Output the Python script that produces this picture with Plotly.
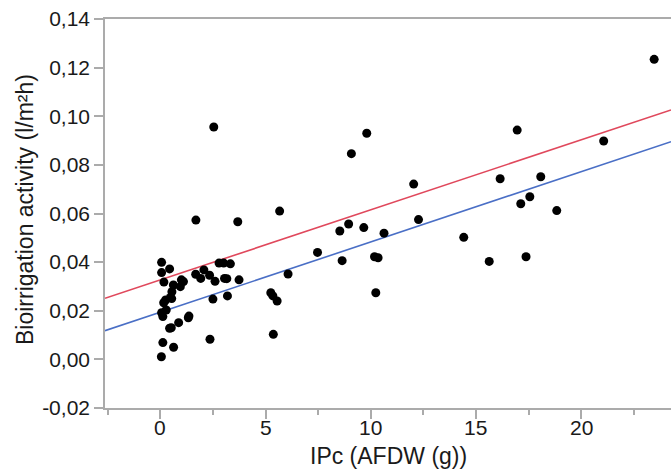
import plotly.graph_objects as go

# Data
ipc = [23.47, 16.96, 9.81, 9.08, 21.07, 12.04, 16.15, 18.08, 17.56, 17.13,
       18.84, 12.27, 5.67, 8.95, 8.53, 9.67, 10.63, 7.47, 8.64, 10.18,
       10.35, 14.42, 15.63, 17.38, 10.24, 6.07, 1.69, 3.68, 0.06, 0.06,
       0.44, 0.17, 0.62, 0.55, 0.48, 0.25, 0.16, 0.28, 0.06, 0.12,
       1.00, 0.95, 0.54, 1.68, 2.07, 1.92, 2.34, 2.60, 2.79, 3.01,
       3.33, 3.05, 3.16, 3.74, 2.50, 3.19, 1.36, 1.33, 0.87, 0.44,
       0.52, 0.12, 0.63, 0.05, 2.36, 5.25, 5.35, 5.55, 5.37, 2.54, 1.10]
bioirr = [0.1234, 0.0943, 0.0930, 0.0846, 0.0898, 0.0721, 0.0743, 0.0751, 0.0669, 0.0640,
          0.0612, 0.0575, 0.0610, 0.0557, 0.0528, 0.0542, 0.0519, 0.0440, 0.0406, 0.0422,
          0.0418, 0.0502, 0.0403, 0.0422, 0.0274, 0.0351, 0.0573, 0.0566, 0.0399, 0.0357,
          0.0372, 0.0318, 0.0306, 0.0278, 0.0255, 0.0244, 0.0233, 0.0203, 0.0192, 0.0176,
          0.0327, 0.0299, 0.0250, 0.0350, 0.0368, 0.0333, 0.0346, 0.0321, 0.0396, 0.0396,
          0.0393, 0.0333, 0.0332, 0.0327, 0.0248, 0.0261, 0.0178, 0.0171, 0.0151, 0.0128,
          0.0130, 0.0069, 0.0050, 0.0011, 0.0083, 0.0274, 0.0261, 0.0240, 0.0103, 0.0956, 0.0320]

# Fitted lines: intercept, slope
line_names = ["upper", "lower"]
line_intercepts = [0.0327, 0.0194]
line_slopes = [0.00288, 0.00289]
line_colors = ["#e0485c", "#4a6fc6"]

x_title = "IPc (AFDW (g))"
y_title = "Bioirrigation activity (l/m²h)"
x_range = [-2.63, 24.27]
y_range = [-0.02, 0.14]
x_tickvals = [0, 5, 10, 15, 20]
x_ticktext = ["0", "5", "10", "15", "20"]
y_tickvals = [-0.02, 0.0, 0.02, 0.04, 0.06, 0.08, 0.10, 0.12, 0.14]
y_ticktext = ["-0,02", "0,00", "0,02", "0,04", "0,06", "0,08", "0,10", "0,12", "0,14"]

fig = go.Figure()
for name, b0, b1, col in zip(line_names, line_intercepts, line_slopes, line_colors):
    xs = [x_range[0], x_range[1]]
    ys = [b0 + b1 * v for v in xs]
    fig.add_trace(go.Scatter(x=xs, y=ys, mode="lines", name=name,
                             line=dict(color=col, width=1.6), showlegend=False,
                             cliponaxis=True))

fig.add_trace(go.Scatter(x=ipc, y=bioirr, mode="markers", showlegend=False,
                         marker=dict(color="black", size=9, line=dict(width=0))))

axis_col = "#ababab"
txt_col = "#1a1a1a"
font_fam = "Liberation Sans, Arial, sans-serif"

annotations = [
    dict(text=x_title, xref="paper", yref="paper", x=0.5, y=-0.1234,
         xanchor="center", yanchor="middle", showarrow=False,
         font=dict(size=23, color=txt_col, family=font_fam)),
    dict(text=y_title, xref="paper", yref="paper", x=-0.1413, y=0.509,
         xanchor="center", yanchor="middle", showarrow=False, textangle=-90,
         font=dict(size=23, color=txt_col, family=font_fam)),
]
for v, t in zip(x_tickvals, x_ticktext):
    annotations.append(dict(text=t, xref="x", yref="paper", x=v, y=-0.0514,
                            xanchor="center", yanchor="middle", showarrow=False,
                            font=dict(size=21, color=txt_col, family=font_fam)))

fig.update_layout(
    width=671, height=473,
    margin=dict(l=105, r=0, t=19, b=65),
    plot_bgcolor="white", paper_bgcolor="white",
    font=dict(family=font_fam, color=txt_col, size=21),
    xaxis=dict(range=x_range, tickvals=x_tickvals, showticklabels=False,
               ticks="outside", ticklen=9,
               tickwidth=1.5, tickcolor=axis_col, showline=True, linecolor=axis_col,
               linewidth=1.6, mirror=True, showgrid=False, zeroline=False,
               minor=dict(ticks="outside", ticklen=5, tickwidth=1.5, tickcolor=axis_col,
                          dtick=2.5, tick0=0, showgrid=False)),
    yaxis=dict(range=y_range, tickvals=y_tickvals, ticktext=y_ticktext,
               ticks="outside", ticklen=9, tickwidth=1.5, tickcolor=axis_col,
               showline=True, linecolor=axis_col, linewidth=1.6, showgrid=False,
               zeroline=False, tickfont=dict(size=21)),
    annotations=annotations,
)

fig.write_html("out.html")
